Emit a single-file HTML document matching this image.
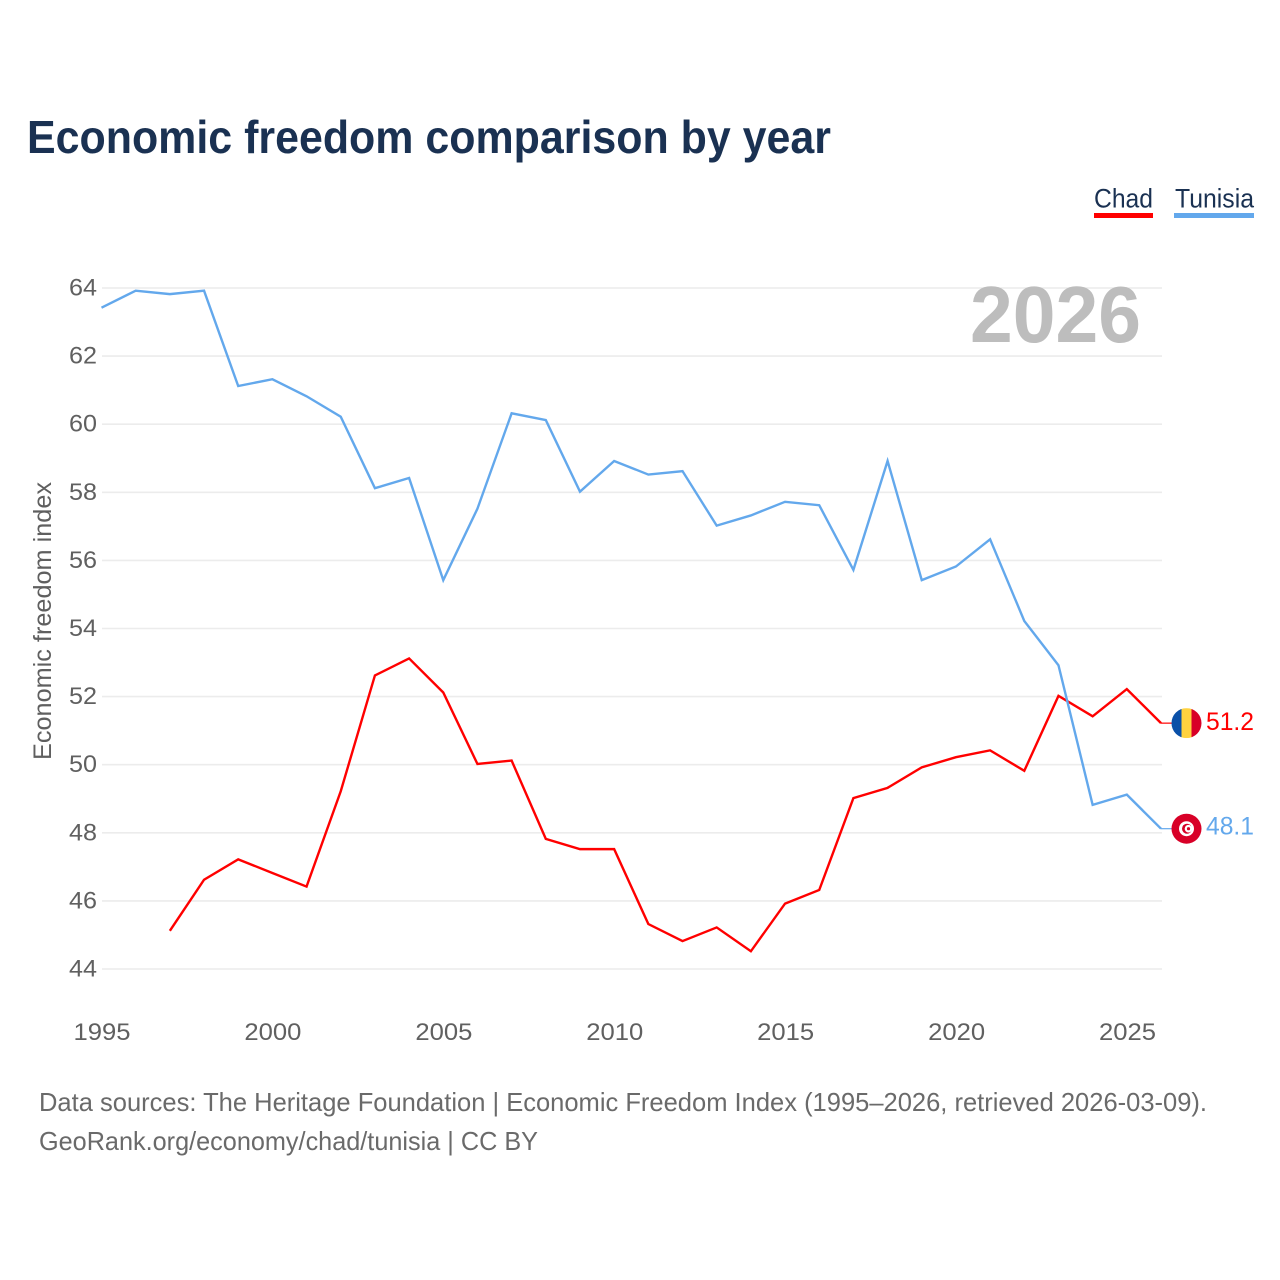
<!DOCTYPE html>
<html lang="en">
<head>
<meta charset="utf-8">
<title>Economic freedom comparison by year</title>
<style>
html,body{margin:0;padding:0;background:#fff}
svg{display:block}
text{font-family:"Liberation Sans",sans-serif}
</style>
</head>
<body>
<svg id="chart" xmlns="http://www.w3.org/2000/svg" width="1280" height="1280" viewBox="0 0 1280 1280">
  <rect width="1280" height="1280" fill="#ffffff"/>
  <text x="27" y="153" font-size="46" font-weight="700" fill="#1a3152" textLength="804" lengthAdjust="spacingAndGlyphs">Economic freedom comparison by year</text>
  <g>
    <text x="1094" y="207.5" font-size="27" fill="#1a3152" textLength="59" lengthAdjust="spacingAndGlyphs">Chad</text>
    <rect x="1094" y="213" width="59" height="5" fill="#ff0000"/>
  </g>
  <g>
    <text x="1175" y="207.5" font-size="27" fill="#1a3152" textLength="79" lengthAdjust="spacingAndGlyphs">Tunisia</text>
    <rect x="1174" y="213" width="80" height="5" fill="#63a8ec"/>
  </g>
  <g id="grid"></g>
  <text x="970" y="342" font-size="80" font-weight="700" fill="#bdbdbd" textLength="171" lengthAdjust="spacingAndGlyphs">2026</text>
  <g id="yticks"></g>
  <g id="xticks"></g>
  <text transform="translate(51 621) rotate(-90)" text-anchor="middle" font-size="25" fill="#5f5f5f" textLength="278" lengthAdjust="spacingAndGlyphs">Economic freedom index</text>
  <g id="series"></g>
  <defs>
    <clipPath id="flag-clip-chad"><circle id="clip-chad" cx="0" cy="0" r="15"/></clipPath>
    <clipPath id="flag-clip-tunisia"><circle id="clip-tunisia" cx="0" cy="0" r="15"/></clipPath>
  </defs>
  <g id="flag-chad">
    <g clip-path="url(#flag-clip-chad)">
      <rect x="-15" y="-15" width="10" height="30" fill="#0a50a8"/>
      <rect x="-5" y="-15" width="10" height="30" fill="#ffd23f"/>
      <rect x="5" y="-15" width="10" height="30" fill="#d80027"/>
    </g>
  </g>
  <g id="flag-tunisia">
    <circle r="15" fill="#d80027"/>
    <circle r="7.5" fill="#ffffff"/>
    <circle cx="0.5" r="5" fill="#d80027"/>
    <circle cx="2" r="3.8" fill="#ffffff"/>
    <circle cx="2" r="1.6" fill="#d80027"/>
  </g>
  <g id="end-labels"></g>
  <text x="39" y="1111" font-size="26" fill="#6a6a6a" textLength="1168" lengthAdjust="spacingAndGlyphs">Data sources: The Heritage Foundation | Economic Freedom Index (1995–2026, retrieved 2026-03-09).</text>
  <text x="39" y="1150" font-size="26" fill="#6a6a6a" textLength="499" lengthAdjust="spacingAndGlyphs">GeoRank.org/economy/chad/tunisia | CC BY</text>
</svg>
<script>
const years = [1995,1996,1997,1998,1999,2000,2001,2002,2003,2004,2005,2006,2007,2008,2009,2010,2011,2012,2013,2014,2015,2016,2017,2018,2019,2020,2021,2022,2023,2024,2025,2026];
const chadValues = [null,null,45.1,46.6,47.2,46.8,46.4,49.2,52.6,53.1,52.1,50.0,50.1,47.8,47.5,47.5,45.3,44.8,45.2,44.5,45.9,46.3,49.0,49.3,49.9,50.2,50.4,49.8,52.0,51.4,52.2,51.2];
const tunisiaValues = [63.4,63.9,63.8,63.9,61.1,61.3,60.8,60.2,58.1,58.4,55.4,57.5,60.3,60.1,58.0,58.9,58.5,58.6,57.0,57.3,57.7,57.6,55.7,58.9,55.4,55.8,56.6,54.2,52.9,48.8,49.1,48.1];
const yTickLabels = [44,46,48,50,52,54,56,58,60,62,64];
const xTickLabels = [1995,2000,2005,2010,2015,2020,2025];

const NS = 'http://www.w3.org/2000/svg';
const Y44 = 969, Y64 = 288;
function xScale(year) { return 101.5 + (year - 1995) * (1161 - 101.5) / (2026 - 1995); }
function xTickScale(year) { return 102 + (year - 1995) * (1127.5 - 102) / (2025 - 1995); }
function yGrid(value) { return Y44 + (value - 44) * (Y64 - Y44) / (64 - 44); }
function yScale(value) { return yGrid(value) - 0.7; }
function make(tag, attrs, parent, content) {
  const el = document.createElementNS(NS, tag);
  for (const k in attrs) el.setAttribute(k, attrs[k]);
  if (content !== undefined) el.textContent = content;
  parent.appendChild(el);
  return el;
}
const grid = document.getElementById('grid');
const yticks = document.getElementById('yticks');
const xticks = document.getElementById('xticks');
const series = document.getElementById('series');
const endLabels = document.getElementById('end-labels');

yTickLabels.forEach(function (t) {
  const line = make('line', {x1: 102, x2: 1162, y1: yGrid(t), y2: yGrid(t), stroke: '#ececec', 'stroke-width': 1.6}, grid);
  
  
  const label = make('text', {x: 97, y: yGrid(t) + 7.5, 'text-anchor': 'end', 'font-size': 24, fill: '#606060', textLength: 28, lengthAdjust: 'spacingAndGlyphs'}, yticks, t);
  
  
});
xTickLabels.forEach(function (t) {
  const label = make('text', {x: xTickScale(t), y: 1040, 'text-anchor': 'middle', 'font-size': 24, fill: '#606060', textLength: 57, lengthAdjust: 'spacingAndGlyphs'}, xticks, t);
  
  
});
function pathFor(values) {
  let d = '';
  values.forEach(function (v, i) {
    if (v === null) return;
    d += (d ? 'L' : 'M') + xScale(years[i]).toFixed(2) + ' ' + yScale(v).toFixed(2);
  });
  return d;
}
const lineChad = make('path', {d: pathFor(chadValues), fill: 'none', stroke: '#ff0000', 'stroke-width': 2.4, 'stroke-linejoin': 'miter'}, series);


const lineTunisia = make('path', {d: pathFor(tunisiaValues), fill: 'none', stroke: '#63a8ec', 'stroke-width': 2.4, 'stroke-linejoin': 'miter'}, series);



const lastChad = chadValues[chadValues.length - 1];
const lastTunisia = tunisiaValues[tunisiaValues.length - 1];
const tailChad = make('line', {x1: 1161, x2: 1172, y1: yScale(lastChad), y2: yScale(lastChad), stroke: '#ff0000', 'stroke-width': 1.2}, series);


const tailTunisia = make('line', {x1: 1161, x2: 1172, y1: yScale(lastTunisia), y2: yScale(lastTunisia), stroke: '#63a8ec', 'stroke-width': 1.2}, series);



document.getElementById('flag-chad').setAttribute('transform', 'translate(1186.5 ' + yScale(lastChad) + ')');
document.getElementById('flag-tunisia').setAttribute('transform', 'translate(1186.5 ' + yScale(lastTunisia) + ')');

const valueChad = make('text', {x: 1254, y: yScale(lastChad) + 7, 'text-anchor': 'end', 'font-size': 25, fill: '#ff0000', textLength: 48, lengthAdjust: 'spacingAndGlyphs'}, endLabels, lastChad.toFixed(1));


const valueTunisia = make('text', {x: 1254, y: yScale(lastTunisia) + 6, 'text-anchor': 'end', 'font-size': 25, fill: '#63a8ec', textLength: 48, lengthAdjust: 'spacingAndGlyphs'}, endLabels, lastTunisia.toFixed(1));


</script>
</body>
</html>
